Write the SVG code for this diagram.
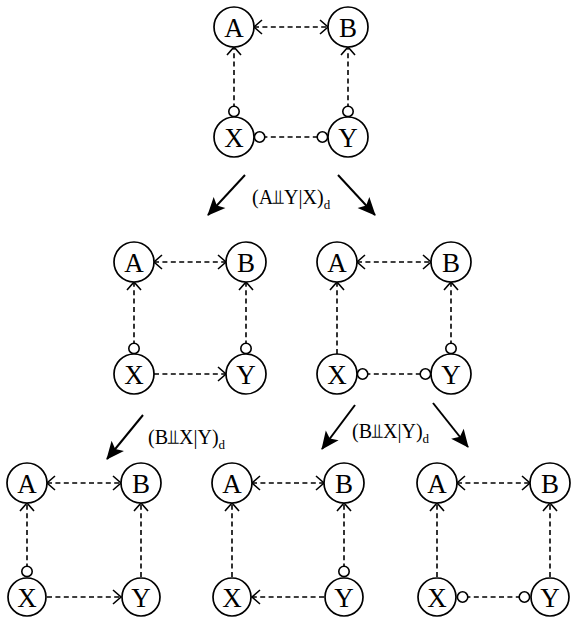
<svg xmlns="http://www.w3.org/2000/svg" width="571" height="617" viewBox="0 0 571 617">
<style>
.n circle{fill:#fff;stroke:#000;stroke-width:1.7}
.n text{font-family:"Liberation Serif","Times New Roman",serif;font-size:27px;text-anchor:middle;fill:#000}
.e line{stroke:#000;stroke-width:1.6;stroke-dasharray:5,3.4;fill:none}
.ab{marker-start:url(#arr);marker-end:url(#arr)}
.ca{marker-start:url(#circ);marker-end:url(#arr)}
.a{marker-end:url(#arr)}
.cc{marker-start:url(#circ);marker-end:url(#circ)}
.big line{stroke:#000;stroke-width:2;marker-end:url(#head)}
.lbl{font-family:"Liberation Serif","Times New Roman","DejaVu Serif",serif;font-size:20px;fill:#000}
.sub{font-size:13px}
</style>
<defs>
<marker id="arr" markerUnits="userSpaceOnUse" viewBox="-12 -9 14 18" refX="0" refY="0" markerWidth="14" markerHeight="18" orient="auto-start-reverse" overflow="visible">
<path d="M-8,-7 L0,0 L-8,7" fill="none" stroke="#000" stroke-width="1.6"/>
</marker>
<marker id="circ" markerUnits="userSpaceOnUse" viewBox="-14 -7 14 14" refX="0" refY="0" markerWidth="14" markerHeight="14" orient="auto-start-reverse" overflow="visible">
<circle cx="-5.6" cy="0" r="5.2" fill="#fff" stroke="#000" stroke-width="1.6"/>
</marker>
<marker id="head" markerUnits="userSpaceOnUse" viewBox="-18 -9 20 18" refX="0" refY="0" markerWidth="20" markerHeight="18" orient="auto" overflow="visible">
<path d="M1,0 L-17,-8 L-13,0 L-17,8 Z" fill="#000"/>
</marker>
</defs>

<g id="connectors" class="e">
<!-- top graph -->
<line class="ab" x1="254" y1="27" x2="328" y2="27"/>
<line class="ca" x1="234" y1="117" x2="234" y2="47"/>
<line class="ca" x1="348" y1="117" x2="348" y2="47"/>
<line class="cc" x1="254" y1="137" x2="328" y2="137"/>
<!-- middle left -->
<line class="ab" x1="154" y1="262" x2="226" y2="262"/>
<line class="ca" x1="134" y1="354" x2="134" y2="282"/>
<line class="ca" x1="246" y1="354" x2="246" y2="282"/>
<line class="a" x1="154" y1="374" x2="226" y2="374"/>
<!-- middle right -->
<line class="ab" x1="357" y1="262" x2="431" y2="262"/>
<line class="a" x1="337" y1="354" x2="337" y2="282"/>
<line class="ca" x1="451" y1="354" x2="451" y2="282"/>
<line class="cc" x1="357" y1="374" x2="431" y2="374"/>
<!-- bottom left -->
<line class="ab" x1="47" y1="483" x2="121" y2="483"/>
<line class="ca" x1="27" y1="577" x2="27" y2="503"/>
<line class="a" x1="141" y1="577" x2="141" y2="503"/>
<line class="a" x1="47" y1="597" x2="121" y2="597"/>
<!-- bottom middle -->
<line class="ab" x1="252" y1="483" x2="324" y2="483"/>
<line class="a" x1="232" y1="577" x2="232" y2="503"/>
<line class="ca" x1="344" y1="577" x2="344" y2="503"/>
<line class="a" x1="324" y1="597" x2="252" y2="597"/>
<!-- bottom right -->
<line class="ab" x1="457" y1="483" x2="530" y2="483"/>
<line class="a" x1="437" y1="577" x2="437" y2="503"/>
<line class="a" x1="550" y1="577" x2="550" y2="503"/>
<line class="cc" x1="457" y1="597" x2="530" y2="597"/>
</g>

<g id="transitions" class="big">
<line x1="245" y1="175" x2="208" y2="215"/>
<line x1="338" y1="175" x2="375" y2="215"/>
<line x1="143" y1="415" x2="107" y2="459"/>
<line x1="355" y1="405" x2="322" y2="449"/>
<line x1="433" y1="403" x2="468" y2="447"/>
</g>

<g id="labels">
<text class="lbl" x="252" y="204">(A⫫Y|X)<tspan class="sub" dy="5">d</tspan></text>
<text class="lbl" x="148" y="444">(B⫫X|Y)<tspan class="sub" dy="5">d</tspan></text>
<text class="lbl" x="352" y="438">(B⫫X|Y)<tspan class="sub" dy="5">d</tspan></text>
</g>

<g id="g0-A" class="n"><circle cx="234" cy="27" r="20"/><text x="234" y="36.5">A</text></g>
<g id="g0-B" class="n"><circle cx="348" cy="27" r="20"/><text x="348" y="36.5">B</text></g>
<g id="g0-X" class="n"><circle cx="234" cy="137" r="20"/><text x="234" y="146.5">X</text></g>
<g id="g0-Y" class="n"><circle cx="348" cy="137" r="20"/><text x="348" y="146.5">Y</text></g>

<g id="g1-A" class="n"><circle cx="134" cy="262" r="20"/><text x="134" y="271.5">A</text></g>
<g id="g1-B" class="n"><circle cx="246" cy="262" r="20"/><text x="246" y="271.5">B</text></g>
<g id="g1-X" class="n"><circle cx="134" cy="374" r="20"/><text x="134" y="383.5">X</text></g>
<g id="g1-Y" class="n"><circle cx="246" cy="374" r="20"/><text x="246" y="383.5">Y</text></g>

<g id="g2-A" class="n"><circle cx="337" cy="262" r="20"/><text x="337" y="271.5">A</text></g>
<g id="g2-B" class="n"><circle cx="451" cy="262" r="20"/><text x="451" y="271.5">B</text></g>
<g id="g2-X" class="n"><circle cx="337" cy="374" r="20"/><text x="337" y="383.5">X</text></g>
<g id="g2-Y" class="n"><circle cx="451" cy="374" r="20"/><text x="451" y="383.5">Y</text></g>

<g id="g3-A" class="n"><circle cx="27" cy="483" r="20"/><text x="27" y="492.5">A</text></g>
<g id="g3-B" class="n"><circle cx="141" cy="483" r="20"/><text x="141" y="492.5">B</text></g>
<g id="g3-X" class="n"><circle cx="27" cy="597" r="19"/><text x="27" y="606.5">X</text></g>
<g id="g3-Y" class="n"><circle cx="141" cy="597" r="19"/><text x="141" y="606.5">Y</text></g>

<g id="g4-A" class="n"><circle cx="232" cy="483" r="20"/><text x="232" y="492.5">A</text></g>
<g id="g4-B" class="n"><circle cx="344" cy="483" r="20"/><text x="344" y="492.5">B</text></g>
<g id="g4-X" class="n"><circle cx="232" cy="597" r="19"/><text x="232" y="606.5">X</text></g>
<g id="g4-Y" class="n"><circle cx="344" cy="597" r="19"/><text x="344" y="606.5">Y</text></g>

<g id="g5-A" class="n"><circle cx="437" cy="483" r="20"/><text x="437" y="492.5">A</text></g>
<g id="g5-B" class="n"><circle cx="550" cy="483" r="20"/><text x="550" y="492.5">B</text></g>
<g id="g5-X" class="n"><circle cx="437" cy="597" r="19"/><text x="437" y="606.5">X</text></g>
<g id="g5-Y" class="n"><circle cx="550" cy="597" r="19"/><text x="550" y="606.5">Y</text></g>
</svg>
